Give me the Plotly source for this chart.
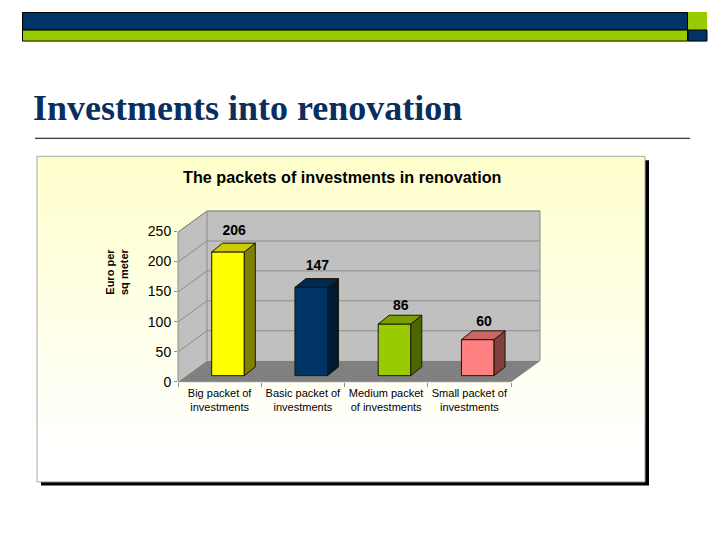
import plotly.graph_objects as go

# ---- data ----
categories = ["Big packet of<br>investments", "Basic packet of<br>investments",
              "Medium packet<br>of investments", "Small packet of<br>investments"]
values = [206, 147, 86, 60]
y_ticks = [0, 50, 100, 150, 200, 250]
slide_title = "Investments into renovation"
chart_title = "The packets of investments in renovation"
y_title = "Euro per<br>sq meter"
front_colors = ["#FFFF00", "#003366", "#99CC00", "#FF8080"]
top_colors = ["#CCCC00", "#002952", "#7A9F00", "#CC6666"]
side_colors = ["#808000", "#001A33", "#4D6600", "#804040"]

# ---- geometry (page pixels <-> axis units) ----
W, H = 720, 540
X0, X1, Y0, Y250 = 178.0, 511.0, 381.0, 231.7
CAT_PX = (X1 - X0) / len(categories)
VAL_PX = (Y0 - Y250) / 250
WALL_DX, WALL_DY = 29 / CAT_PX, 21 / VAL_PX      # depth of the chart box in axis units
BAR_DX, BAR_DY = 11 / CAT_PX, 8.7 / VAL_PX       # depth of each bar
BAR_W = 32.6 / CAT_PX
BAR_OFF_DX, BAR_OFF_DY = 8.3 / CAT_PX, 6 / VAL_PX  # how far behind the front plane bars stand
LABEL_LIFT_PX = [12, 12, 9, 8]                   # gap from each bar's back top edge to its label


def ux(px):
    return (px - X0) / CAT_PX - 0.5


def uy(py):
    return (Y0 - py) / VAL_PX


XL, XR = -0.5, len(categories) - 0.5
YMAX = y_ticks[-1]

fig = go.Figure()


def poly(xs, ys, fill, line="rgba(0,0,0,0)", lw=1, ax=("x", "y")):
    fig.add_trace(go.Scatter(x=xs + xs[:1], y=ys + ys[:1], mode="lines", fill="toself",
                             fillcolor=fill, line=dict(color=line, width=lw),
                             xaxis=ax[0], yaxis=ax[1], hoverinfo="skip", showlegend=False))


def seg(xs, ys, color, lw=1):
    fig.add_trace(go.Scatter(x=xs, y=ys, mode="lines", line=dict(color=color, width=lw),
                             hoverinfo="skip", showlegend=False))


# panel with gradient (page-wide axes)
px_l, px_r, py_t, py_b = 37, 645, 156, 481
pxs = [ux(px_l), ux(px_r), ux(px_r), ux(px_l), ux(px_l)]
pys = [uy(py_t), uy(py_t), uy(py_b), uy(py_b), uy(py_t)]
fig.add_trace(go.Scatter(x=pxs, y=pys, mode="lines", fill="toself",
                         fillgradient=dict(type="vertical",
                                           colorscale=[[0, "#FFFFFF"], [0.1, "#FFFFFF"], [1, "#FFFFCC"]]),
                         line=dict(color="#A6A6A6", width=1), hoverinfo="skip", showlegend=False))

# walls and floor
WALL = "#C0C0C0"
poly([XL, XL + WALL_DX, XL + WALL_DX, XL], [0, WALL_DY, YMAX + WALL_DY, YMAX], WALL)
poly([XL + WALL_DX, XR + WALL_DX, XR + WALL_DX, XL + WALL_DX],
     [WALL_DY, WALL_DY, YMAX + WALL_DY, YMAX + WALL_DY], WALL)
poly([XL, XR, XR + WALL_DX, XL + WALL_DX], [0, 0, WALL_DY, WALL_DY], "#808080")

# gridlines + outline
GRID = "#8C8C8C"
for t in y_ticks[1:]:
    seg([XL, XL + WALL_DX, XR + WALL_DX], [t, t + WALL_DY, t + WALL_DY], GRID)
seg([XL, XL, XL + WALL_DX, XR + WALL_DX, XR + WALL_DX, XR, XL],
    [0, YMAX, YMAX + WALL_DY, YMAX + WALL_DY, WALL_DY, 0, 0], "#8C8C8C")
seg([XL + WALL_DX, XL + WALL_DX], [WALL_DY, YMAX + WALL_DY], "#8C8C8C")

# bars: front faces
centers = [i + BAR_OFF_DX + 25.4 / CAT_PX + BAR_W / 2 - 0.5 for i in range(len(values))]
fig.add_trace(go.Bar(x=centers, y=values, base=BAR_OFF_DY, width=BAR_W, marker=dict(
    color=front_colors, line=dict(color="#1A1A00", width=1)), xaxis="x2", yaxis="y2",
    hoverinfo="skip", showlegend=False))

# bars: side + top faces
for c, v, tc, sc in zip(centers, values, top_colors, side_colors):
    l, r = c - BAR_W / 2, c + BAR_W / 2
    b, t = BAR_OFF_DY, BAR_OFF_DY + v
    poly([r, r + BAR_DX, r + BAR_DX, r], [b, b + BAR_DY, t + BAR_DY, t], sc, "#1A1A00", 1, ("x2", "y2"))
    poly([l, r, r + BAR_DX, l + BAR_DX], [t, t, t + BAR_DY, t + BAR_DY], tc, "#1A1A00", 1, ("x2", "y2"))

# value labels
fig.add_trace(go.Scatter(
    x=[c + BAR_DX / 2 + 0.7 / CAT_PX for c in centers],
    y=[BAR_OFF_DY + v + BAR_DY + g / VAL_PX for v, g in zip(values, LABEL_LIFT_PX)],
    text=[str(v) for v in values], mode="text", textposition="middle center",
    textfont=dict(family="Liberation Sans", size=14, color="#000000"),
    texttemplate="<b>%{text}</b>", xaxis="x2", yaxis="y2", hoverinfo="skip", showlegend=False))


def rect(x0, y0, x1, y1, fill, line=None, lw=1, layer="above"):
    return dict(type="rect", xref="paper", yref="paper", x0=x0 / W, x1=x1 / W,
                y0=1 - y0 / H, y1=1 - y1 / H, fillcolor=fill, layer=layer,
                line=dict(color=line or fill, width=lw if line else 0))


NAVY, GREEN = "#003366", "#99CC00"
shapes = [
    rect(41, 160, 649, 484.5, "#000000", layer="below"),
    rect(22.5, 12.5, 687.5, 30, NAVY, "#000000"),
    rect(22.5, 30, 687.5, 41, GREEN, "#000000"),
    rect(688, 12, 707, 30, GREEN),
    rect(688, 30, 707, 41, NAVY, "#000000"),
    dict(type="line", xref="paper", yref="paper", x0=35 / W, x1=690 / W, y0=1 - 138 / H, y1=1 - 138 / H,
         line=dict(color="#000000", width=1)),
]


def note(text, x, y, size, family="Liberation Sans", color="#000000", anchor="center", angle=0):
    return dict(text=text, x=x / W, y=1 - y / H, xref="paper", yref="paper", showarrow=False,
                xanchor=anchor, yanchor="middle", textangle=angle, align="center",
                font=dict(family=family, size=size, color=color))


annotations = [
    note(f"<b>{slide_title}</b>", 31, 108, 36, "Liberation Serif", "#0A2F5F", "left"),
    note(f"<b>{chart_title}</b>", 341.5, 177, 16.2),
    note(f"<b>{y_title}</b>", 116.5, 271, 11, angle=-90),
]

full_x = [ux(0), ux(W)]
full_y = [uy(H), uy(0)]
hidden = dict(visible=False, fixedrange=True)
fig.update_layout(
    width=W, height=549, margin=dict(l=0, r=0, t=0, b=0), paper_bgcolor="#FFFFFF", plot_bgcolor="rgba(0,0,0,0)",
    showlegend=False, shapes=shapes, annotations=annotations,
    xaxis=dict(domain=[0, 1], range=full_x, **hidden),
    yaxis=dict(domain=[0, 1], range=full_y, **hidden),
    xaxis2=dict(domain=[X0 / W, 540 / W], range=[XL, XR + WALL_DX], anchor="y2",
                tickmode="array", tickvals=list(range(len(categories))), ticktext=categories,
                ticks="outside", ticklen=1, tickcolor="rgba(0,0,0,0)", showgrid=False, zeroline=False,
                tickfont=dict(family="Liberation Sans", size=11, color="#000000"),
                minor=dict(ticks="outside", ticklen=4, tickcolor="#8C8C8C", showgrid=False,
                           tickmode="array", tickvals=[XL + i for i in range(len(categories) + 1)]),
                fixedrange=True),
    yaxis2=dict(domain=[1 - Y0 / H, 1 - 210 / H], range=[0, YMAX + WALL_DY], anchor="x2",
                tickmode="array", tickvals=y_ticks, ticks="outside", ticklen=3, tickcolor="#8C8C8C",
                showgrid=False, zeroline=False,
                tickfont=dict(family="Liberation Sans", size=14, color="#000000"), fixedrange=True),
)
fig.write_html("out.html", config=dict(displayModeBar=False),
               post_script="document.body.style.margin='0';")
